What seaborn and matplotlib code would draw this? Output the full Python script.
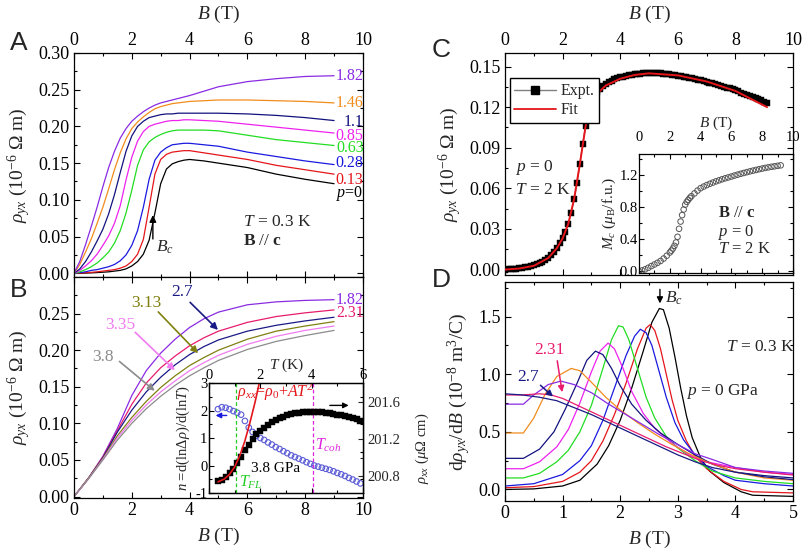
import numpy as np
import pandas as pd
import matplotlib
matplotlib.use("Agg")
import matplotlib.pyplot as plt
from matplotlib.lines import Line2D
from matplotlib.ticker import MultipleLocator, FormatStrFormatter
import seaborn as sns

# ---------------- data ----------------
# panel A : rho_yx (1e-6 Ohm m) vs B (T), T = 0.3 K
a_field = [0, 0.2, 0.4, 0.6, 0.8, 1.0, 1.2, 1.4, 1.6, 1.8, 2.0, 2.2, 2.4, 2.6, 2.8, 3.0,
           3.2, 3.4, 3.6, 3.8, 4.0, 4.5, 5.0, 6.0, 7.0, 8.0, 9.0]
a_labels = ["0", "0.13", "0.28", "0.63", "0.85", "1.1", "1.46", "1.82"]
a_p000 = [0, 0, 0.0003, 0.0006, 0.001, 0.0015, 0.002, 0.003, 0.004, 0.006, 0.010, 0.016, 0.026,
          0.045, 0.082, 0.122, 0.142, 0.149, 0.152, 0.154, 0.155, 0.153, 0.150, 0.144, 0.135,
          0.128, 0.122]
a_p013 = [0, 0.0003, 0.0008, 0.0013, 0.002, 0.003, 0.004, 0.005, 0.007, 0.010, 0.016, 0.026,
          0.046, 0.090, 0.135, 0.155, 0.162, 0.165, 0.166, 0.167, 0.167, 0.164, 0.161, 0.155,
          0.147, 0.141, 0.135]
a_p028 = [0, 0.001, 0.002, 0.004, 0.005, 0.007, 0.009, 0.012, 0.017, 0.025, 0.038, 0.058, 0.090,
          0.128, 0.154, 0.165, 0.171, 0.175, 0.176, 0.177, 0.177, 0.175, 0.173, 0.165, 0.159,
          0.153, 0.148]
a_p063 = [0, 0.002, 0.005, 0.009, 0.014, 0.021, 0.029, 0.041, 0.058, 0.082, 0.113, 0.147, 0.168,
          0.179, 0.185, 0.189, 0.192, 0.194, 0.195, 0.195, 0.195, 0.195, 0.194, 0.188, 0.182,
          0.178, 0.174]
a_p085 = [0, 0.004, 0.010, 0.017, 0.026, 0.038, 0.051, 0.068, 0.092, 0.127, 0.158, 0.180, 0.193,
          0.200, 0.203, 0.205, 0.207, 0.208, 0.208, 0.209, 0.209, 0.208, 0.207, 0.203, 0.199,
          0.195, 0.191]
a_p110 = [0, 0.006, 0.016, 0.029, 0.044, 0.060, 0.081, 0.107, 0.137, 0.166, 0.187, 0.200, 0.207,
          0.212, 0.214, 0.216, 0.217, 0.217, 0.218, 0.218, 0.218, 0.218, 0.218, 0.217, 0.215,
          0.212, 0.208]
a_p146 = [0, 0.012, 0.029, 0.047, 0.068, 0.090, 0.115, 0.141, 0.164, 0.183, 0.197, 0.206, 0.213,
          0.219, 0.224, 0.227, 0.229, 0.231, 0.232, 0.233, 0.234, 0.235, 0.236, 0.236, 0.235,
          0.234, 0.232]
a_p182 = [0, 0.016, 0.039, 0.064, 0.090, 0.118, 0.144, 0.166, 0.184, 0.197, 0.207, 0.214, 0.220,
          0.225, 0.229, 0.232, 0.234, 0.236, 0.238, 0.240, 0.242, 0.248, 0.254, 0.261, 0.265,
          0.268, 0.269]
a_label_y = [0.109, 0.127, 0.150, 0.171, 0.187, 0.206, 0.232, 0.269]

# panel B : higher pressures
b_field = [0, 0.5, 1.0, 1.5, 2.0, 2.5, 3.0, 3.5, 4.0, 4.5, 5.0, 6.0, 7.0, 8.0, 9.0]
b_labels = ["1.82", "2.31", "2.7", "3.13", "3.35", "3.8"]
b_p182 = [0, 0.025, 0.055, 0.093, 0.138, 0.172, 0.196, 0.215, 0.231, 0.243, 0.252, 0.262, 0.266, 0.268, 0.269]
b_p231 = [0, 0.025, 0.054, 0.090, 0.126, 0.155, 0.176, 0.192, 0.206, 0.217, 0.226, 0.238, 0.246, 0.251, 0.255]
b_p270 = [0, 0.025, 0.053, 0.088, 0.118, 0.143, 0.163, 0.180, 0.194, 0.205, 0.214, 0.226, 0.234, 0.240, 0.245]
b_p313 = [0, 0.025, 0.052, 0.083, 0.108, 0.130, 0.149, 0.165, 0.179, 0.190, 0.200, 0.215, 0.226, 0.233, 0.239]
b_p335 = [0, 0.024, 0.051, 0.080, 0.104, 0.125, 0.143, 0.158, 0.172, 0.183, 0.193, 0.208, 0.219, 0.227, 0.233]
b_p380 = [0, 0.024, 0.050, 0.077, 0.100, 0.120, 0.137, 0.152, 0.165, 0.176, 0.186, 0.201, 0.212, 0.220, 0.227]

# panel B inset : n (left) and rho_xx (right) vs T, 3.8 GPa
ins_t = [0.35, 0.5, 0.65, 0.8, 0.95, 1.1, 1.25, 1.4, 1.55, 1.7, 1.85, 2.0, 2.15, 2.3, 2.45,
         2.6, 2.75, 2.9, 3.05, 3.2, 3.35, 3.5, 3.65, 3.8, 3.95, 4.1, 4.25, 4.4, 4.55, 4.7,
         4.85, 5.0, 5.15, 5.3, 5.45, 5.6, 5.75, 5.9]
ins_n = [2.05, 2.12, 2.10, 2.05, 1.98, 1.92, 1.85, 1.62, 1.38, 1.22, 1.08, 1.00, 0.93, 0.84, 0.76,
         0.67, 0.60, 0.52, 0.45, 0.37, 0.31, 0.25, 0.19, 0.12, 0.06, 0.00, -0.04, -0.08, -0.12, -0.16,
         -0.21, -0.27, -0.32, -0.38, -0.45, -0.51, -0.58, -0.65]
ins_rho = [200.75, 200.76, 200.79, 200.83, 200.88, 200.94, 201.01, 201.08, 201.14, 201.20, 201.25,
           201.29, 201.32, 201.35, 201.38, 201.40, 201.42, 201.44, 201.455, 201.465, 201.475,
           201.482, 201.487, 201.49, 201.492, 201.492, 201.49, 201.487, 201.482, 201.476, 201.47,
           201.462, 201.455, 201.447, 201.438, 201.425, 201.41, 201.39]
fit_t = [0.35, 0.6, 0.8, 1.0, 1.2, 1.4, 1.6, 1.8, 2.0]
fit_rho = [200.74, 200.77, 200.82, 200.90, 201.02, 201.18, 201.38, 201.60, 201.85]
t_fl, t_coh = 1.05, 4.07

# panel C : rho_yx at p = 0, T = 2 K (experiment and fit)
c_field = [0.0, 0.1, 0.2, 0.3, 0.4, 0.5, 0.6, 0.7, 0.8, 0.9, 1.0, 1.1, 1.2, 1.3, 1.4, 1.5, 1.6,
           1.7, 1.8, 1.9, 2.0, 2.1, 2.2, 2.3, 2.4, 2.5, 2.6, 2.7, 2.8, 2.9, 3.0, 3.1, 3.2, 3.3,
           3.4, 3.5, 3.6, 3.7, 3.8, 3.9, 4.0, 4.1, 4.2, 4.3, 4.4, 4.5, 4.6, 4.7, 4.8, 4.9, 5.0,
           5.1, 5.2, 5.3, 5.4, 5.5, 5.6, 5.7, 5.8, 5.9, 6.0, 6.1, 6.2, 6.3, 6.4, 6.5, 6.6, 6.7,
           6.8, 6.9, 7.0, 7.1, 7.2, 7.3, 7.4, 7.5, 7.6, 7.7, 7.8, 7.9, 8.0, 8.1, 8.2, 8.3, 8.4,
           8.5, 8.6, 8.7, 8.8, 8.9, 9.0, 9.1]
c_expt = [0.0000, 0.0002, 0.0004, 0.0006, 0.0008, 0.0010, 0.0013, 0.0016, 0.0020, 0.0025, 0.0031,
          0.0038, 0.0047, 0.0058, 0.0072, 0.0088, 0.0108, 0.0132, 0.0160, 0.0193, 0.0232, 0.0280,
          0.0340, 0.0420, 0.0520, 0.0640, 0.0780, 0.0930, 0.1060, 0.1160, 0.1230, 0.1275, 0.1310,
          0.1335, 0.1355, 0.1370, 0.1383, 0.1395, 0.1405, 0.1413, 0.1420, 0.1426, 0.1431, 0.1436,
          0.1440, 0.1443, 0.1446, 0.1448, 0.1450, 0.1451, 0.1452, 0.1452, 0.1451, 0.1450, 0.1449,
          0.1447, 0.1445, 0.1442, 0.1439, 0.1436, 0.1432, 0.1428, 0.1424, 0.1420, 0.1416, 0.1412,
          0.1407, 0.1402, 0.1397, 0.1392, 0.1387, 0.1381, 0.1375, 0.1369, 0.1363, 0.1357, 0.1351,
          0.1345, 0.1338, 0.1331, 0.1324, 0.1316, 0.1308, 0.1300, 0.1292, 0.1284, 0.1276, 0.1268,
          0.1259, 0.1250, 0.1241, 0.1232]
c_fit_field = [0, 0.5, 1.0, 1.5, 1.8, 2.0, 2.2, 2.4, 2.6, 2.8, 3.0, 3.2, 3.5, 4.0, 4.5, 5.0,
               6.0, 7.0, 8.0, 9.1]
c_fit = [0, 0.0008, 0.0028, 0.0085, 0.0158, 0.0230, 0.0340, 0.0520, 0.0780, 0.1060, 0.1225,
         0.1300, 0.1360, 0.1410, 0.1438, 0.1450, 0.1435, 0.1390, 0.1320, 0.1200]

# panel C inset : magnetisation
m_field = [0.0, 0.2, 0.4, 0.6, 0.8, 1.0, 1.2, 1.4, 1.6, 1.8, 2.0, 2.1, 2.2, 2.3, 2.4, 2.5, 2.6,
           2.7, 2.8, 2.9, 3.0, 3.1, 3.2, 3.3, 3.4, 3.6, 3.8, 4.0, 4.2, 4.4, 4.6, 4.8, 5.0, 5.2,
           5.4, 5.6, 5.8, 6.0, 6.2, 6.4, 6.6, 6.8, 7.0, 7.2, 7.4, 7.6, 7.8, 8.0, 8.2, 8.4, 8.6,
           8.8, 9.0, 9.2]
m_c = [0.00, 0.012, 0.026, 0.045, 0.066, 0.086, 0.107, 0.130, 0.160, 0.195, 0.235, 0.258, 0.285,
       0.318, 0.360, 0.430, 0.530, 0.620, 0.700, 0.770, 0.830, 0.865, 0.890, 0.915, 0.935, 0.970,
       1.005, 1.035, 1.055, 1.073, 1.090, 1.105, 1.120, 1.133, 1.146, 1.158, 1.169, 1.180, 1.192,
       1.203, 1.214, 1.224, 1.234, 1.244, 1.253, 1.262, 1.271, 1.279, 1.287, 1.294, 1.301, 1.307,
       1.313, 1.319]

# panel D : d rho_yx / dB (1e-8 m^3/C)
d_b_000 = [0, 0.5, 1.0, 1.3, 1.6, 1.8, 2.0, 2.2, 2.4, 2.55, 2.68, 2.75, 2.85, 2.95, 3.05, 3.15, 3.25, 3.4, 3.55, 3.8, 4.1, 4.3, 5.0]
d_v_000 = [0.0, 0.005, 0.03, 0.08, 0.22, 0.38, 0.60, 0.88, 1.20, 1.45, 1.57, 1.56, 1.40, 1.15, 0.88, 0.64, 0.45, 0.27, 0.16, 0.06, -0.02, -0.05, -0.06]
d_b_013 = [0, 0.5, 1.0, 1.3, 1.5, 1.7, 1.9, 2.1, 2.3, 2.45, 2.52, 2.6, 2.7, 2.8, 2.9, 3.0, 3.15, 3.3, 3.5, 3.8, 4.1, 4.3, 5.0]
d_v_013 = [0.015, 0.025, 0.07, 0.15, 0.25, 0.42, 0.65, 0.92, 1.22, 1.40, 1.43, 1.38, 1.22, 1.00, 0.78, 0.60, 0.42, 0.29, 0.18, 0.07, 0.0, -0.02, -0.03]
d_b_028 = [0, 0.5, 1.0, 1.3, 1.5, 1.7, 1.9, 2.1, 2.25, 2.35, 2.45, 2.55, 2.65, 2.8, 2.95, 3.1, 3.3, 3.5, 3.8, 4.0, 4.5, 5.0]
d_v_028 = [0.03, 0.05, 0.13, 0.25, 0.38, 0.60, 0.88, 1.16, 1.33, 1.39, 1.36, 1.25, 1.07, 0.80, 0.58, 0.43, 0.30, 0.20, 0.12, 0.08, 0.05, 0.03]
d_b_063 = [0, 0.32, 0.6, 0.9, 1.1, 1.3, 1.5, 1.7, 1.85, 1.97, 2.05, 2.15, 2.3, 2.45, 2.6, 2.8, 3.0, 3.3, 3.6, 4.0, 4.5, 5.0]
d_v_063 = [0.10, 0.10, 0.14, 0.24, 0.34, 0.50, 0.73, 1.05, 1.30, 1.42, 1.41, 1.30, 1.05, 0.80, 0.62, 0.46, 0.36, 0.25, 0.16, 0.10, 0.07, 0.05]
d_b_085 = [0, 0.32, 0.6, 0.9, 1.1, 1.3, 1.5, 1.65, 1.79, 1.9, 2.05, 2.2, 2.4, 2.6, 2.9, 3.2, 3.5, 4.0, 4.5, 5.0]
d_v_085 = [0.18, 0.18, 0.24, 0.37, 0.52, 0.75, 1.02, 1.20, 1.27, 1.22, 1.05, 0.85, 0.66, 0.53, 0.40, 0.30, 0.24, 0.19, 0.15, 0.13]
d_b_110 = [0, 0.32, 0.6, 0.85, 1.05, 1.25, 1.42, 1.57, 1.7, 1.85, 2.0, 2.2, 2.45, 2.7, 3.0, 3.3, 3.6, 4.0, 4.5, 5.0]
d_v_110 = [0.27, 0.27, 0.35, 0.50, 0.70, 0.92, 1.12, 1.20, 1.17, 1.05, 0.90, 0.74, 0.60, 0.49, 0.39, 0.30, 0.22, 0.15, 0.12, 0.10]
d_b_146 = [0, 0.32, 0.5, 0.7, 0.9, 1.15, 1.3, 1.5, 1.75, 2.0, 2.3, 2.6, 2.9, 3.2, 3.5, 4.0, 4.5, 5.0]
d_v_146 = [0.49, 0.49, 0.62, 0.83, 0.98, 1.05, 1.03, 0.93, 0.80, 0.69, 0.58, 0.48, 0.39, 0.31, 0.24, 0.15, 0.10, 0.08]
d_b_182 = [0, 0.32, 0.5, 0.75, 0.97, 1.2, 1.5, 1.8, 2.1, 2.4, 2.7, 3.0, 3.3, 3.6, 4.0, 4.5, 5.0]
d_v_182 = [0.74, 0.74, 0.82, 0.91, 0.94, 0.91, 0.84, 0.74, 0.65, 0.56, 0.47, 0.39, 0.31, 0.26, 0.19, 0.16, 0.14]
d_b_231 = [0, 0.3, 0.6, 0.8, 1.0, 1.3, 1.6, 1.9, 2.2, 2.5, 2.8, 3.1, 3.4, 3.7, 4.0, 4.5, 5.0]
d_v_231 = [0.82, 0.82, 0.83, 0.82, 0.79, 0.72, 0.65, 0.58, 0.51, 0.44, 0.37, 0.31, 0.25, 0.21, 0.18, 0.15, 0.125]
d_b_270 = [0, 0.3, 0.6, 0.9, 1.2, 1.5, 1.8, 2.1, 2.4, 2.7, 3.0, 3.3, 3.6, 4.0, 4.5, 5.0]
d_v_270 = [0.83, 0.82, 0.80, 0.77, 0.71, 0.65, 0.58, 0.51, 0.44, 0.37, 0.30, 0.24, 0.19, 0.15, 0.11, 0.085]

colors = {"0": "#000000", "0.13": "#e4161b", "0.28": "#1a1ae0", "0.63": "#22dd22",
          "0.85": "#ee22ee", "1.1": "#12127e", "1.46": "#f28c1c", "1.82": "#8a2be2",
          "2.31": "#e81c6e", "2.7": "#1a1a86", "3.13": "#808010", "3.35": "#f07cf0",
          "3.8": "#8c8c8c"}

# ---------------- style ----------------
sns.set_style("ticks")
plt.rcParams["font.family"] = ["Liberation Serif", "DejaVu Serif"]
plt.rcParams["mathtext.fontset"] = "custom"
plt.rcParams["mathtext.rm"] = "Liberation Serif"
plt.rcParams["mathtext.it"] = "Liberation Serif:italic"
plt.rcParams["mathtext.bf"] = "Liberation Serif:bold"
plt.rcParams["axes.unicode_minus"] = False
plt.rcParams["axes.linewidth"] = 0.9
plt.rcParams["axes.edgecolor"] = "black"

LW = 0.9


def style_axes(ax, xmaj, xmin, ymaj, ymin, size=13):
    ax.xaxis.set_major_locator(MultipleLocator(xmaj))
    ax.xaxis.set_minor_locator(MultipleLocator(xmin))
    ax.yaxis.set_major_locator(MultipleLocator(ymaj))
    ax.yaxis.set_minor_locator(MultipleLocator(ymin))
    ax.tick_params(which="both", direction="in", top=True, right=True, colors="black",
                   labelsize=size, width=0.8, pad=3)
    ax.tick_params(which="major", length=4.5)
    ax.tick_params(which="minor", length=2.5)
    ax.set_xlabel("")
    ax.set_ylabel("")


fig = plt.figure(figsize=(8.05, 5.5), dpi=100)
ax_a = fig.add_axes([0.0919, 0.4964, 0.359, 0.4073])
ax_b = fig.add_axes([0.0919, 0.0945, 0.359, 0.4019])
ax_c = fig.add_axes([0.6273, 0.5, 0.3578, 0.4036])
ax_d = fig.add_axes([0.6273, 0.0891, 0.3578, 0.3982])

rho_label = r"$\rho_{yx}$ (10$^{-6}$ $\Omega$ m)"

# ---------------- A ----------------
a_series = [a_p000, a_p013, a_p028, a_p063, a_p085, a_p110, a_p146, a_p182]
df_a = pd.DataFrame({"B": np.tile(a_field, len(a_labels)),
                     "rho": np.concatenate(a_series),
                     "p": np.repeat(a_labels, len(a_field))})
sns.lineplot(data=df_a, x="B", y="rho", hue="p", palette=colors, lw=LW, legend=False,
             estimator=None, sort=False, ax=ax_a)
style_axes(ax_a, 2, 1, 0.05, 0.025)
ax_a.set_xlim(0, 10)
ax_a.set_ylim(-0.005, 0.30)
ax_a.yaxis.set_major_formatter(FormatStrFormatter("%.2f"))
ax_a.tick_params(labelbottom=False, labeltop=True)
ax_a.xaxis.set_label_position("top")
ax_a.set_xlabel(r"$B$ (T)", fontsize=14, labelpad=9)
ax_a.set_ylabel(rho_label, fontsize=14, labelpad=4)
for lab, yv in zip(a_labels, a_label_y):
    txt = r"$p$=0" if lab == "0" else lab
    ax_a.text(10.02, yv, txt, color=colors[lab], fontsize=11.5, ha="right", va="center")
ax_a.text(5.84, 0.070, r"$T$ = 0.3 K", fontsize=12.5, va="center")
ax_a.text(5.84, 0.044, r"$\mathbf{B}$ // $\mathbf{c}$", fontsize=12.5, va="center")
ax_a.annotate("", xy=(2.73, 0.083), xytext=(2.73, 0.043),
              arrowprops=dict(arrowstyle="-|>", color="black", lw=1.0, mutation_scale=10))
ax_a.text(2.85, 0.036, r"$B_c$", fontsize=12.5, va="center")

# ---------------- B ----------------
b_series = [b_p182, b_p231, b_p270, b_p313, b_p335, b_p380]
df_b = pd.DataFrame({"B": np.tile(b_field, len(b_labels)),
                     "rho": np.concatenate(b_series),
                     "p": np.repeat(b_labels, len(b_field))})
sns.lineplot(data=df_b, x="B", y="rho", hue="p", palette=colors, lw=LW, legend=False,
             estimator=None, sort=False, ax=ax_b)
style_axes(ax_b, 2, 1, 0.05, 0.025)
ax_b.set_xlim(0, 10)
ax_b.set_ylim(-0.002, 0.30)
ax_b.set_yticks([0, 0.05, 0.10, 0.15, 0.20, 0.25])
ax_b.yaxis.set_major_formatter(FormatStrFormatter("%.2f"))
ax_b.set_xlabel(r"$B$ (T)", fontsize=14, labelpad=5)
ax_b.set_ylabel(rho_label, fontsize=14, labelpad=4)
ax_b.text(10.02, 0.269, "1.82", color=colors["1.82"], fontsize=11.5, ha="right", va="center")
ax_b.text(10.02, 0.251, "2.31", color=colors["2.31"], fontsize=11.5, ha="right", va="center")
b_arrows = [("2.7", (3.73, 0.279), (3.95, 0.268), (5.05, 0.225)),
            ("3.13", (2.52, 0.264), (2.85, 0.255), (4.36, 0.193)),
            ("3.35", (1.59, 0.234), (2.05, 0.227), (3.56, 0.170)),
            ("3.8", (1.0, 0.191), (1.5, 0.187), (2.87, 0.142))]
for lab, tpos, tail, tip in b_arrows:
    ax_b.text(*tpos, lab, color=colors[lab], fontsize=12.5, ha="center", va="center")
    ax_b.annotate("", xy=tip, xytext=tail,
                  arrowprops=dict(arrowstyle="-|>", color=colors[lab], lw=1.2, mutation_scale=10))

# inset of B
ax_bi = fig.add_axes([0.2596, 0.1036, 0.1913, 0.2])
ax_bi.set_facecolor("white")
ax_bi.set_zorder(5)
ax_bi2 = ax_bi.twinx()
ax_bi2.set_zorder(6)
sns.scatterplot(x=ins_t, y=ins_n, marker="o", s=16, facecolor="none", edgecolor="#5b5bd6",
                linewidth=0.8, ax=ax_bi)
ax_bi.axvline(t_fl, color="#22cc22", ls=(0, (3, 2)), lw=0.9)
ax_bi.axvline(t_coh, color="#dd22dd", ls=(0, (3, 2)), lw=0.9)
sns.scatterplot(x=ins_t, y=ins_rho, marker="s", s=16, color="black", edgecolor="black",
                linewidth=0.3, ax=ax_bi2)
sns.lineplot(x=fit_t, y=fit_rho, color="#e4161b", lw=1.2, ax=ax_bi2)
style_axes(ax_bi, 2, 1, 1, 0.5, size=10.5)
ax_bi.tick_params(right=False, labelbottom=False, labeltop=True, pad=1)
ax_bi.tick_params(which="major", length=3.5)
ax_bi.tick_params(which="minor", length=2)
ax_bi.set_xlim(0, 6)
ax_bi.set_ylim(-1, 3)
ax_bi.xaxis.set_label_position("top")
ax_bi.set_xlabel(r"$T$ (K)", fontsize=11, labelpad=0)
ax_bi.set_ylabel(r"$n$ =d(ln$\Delta\rho$)/d(ln$T$)", fontsize=10.5)
ax_bi.yaxis.set_label_coords(-0.11, 0.5)
ax_bi2.yaxis.set_major_locator(MultipleLocator(0.4))
ax_bi2.yaxis.set_minor_locator(MultipleLocator(0.2))
ax_bi2.tick_params(which="both", direction="in", labelsize=10.5, width=0.8, pad=3)
ax_bi2.tick_params(which="major", length=3.5)
ax_bi2.tick_params(which="minor", length=2)
ax_bi2.set_ylim(200.62, 201.8)
ax_bi2.yaxis.set_major_formatter(FormatStrFormatter("%.1f"))
ax_bi2.set_ylabel(r"$\rho_{xx}$ ($\mu\Omega$ cm)", fontsize=10.5)
ax_bi2.yaxis.set_label_coords(1.33, 0.41)
ax_bi.text(1.1, 2.65, r"$\rho_{xx}$=$\rho_0$+$AT^2$", color="#e4161b", fontsize=11.5, va="center")
ax_bi.text(4.15, 0.75, r"$T_{coh}$", color="#dd22dd", fontsize=11.5, va="center")
ax_bi.text(1.17, -0.6, r"$T_{FL}$", color="#22cc22", fontsize=11.5, va="center")
ax_bi.text(1.63, -0.1, "3.8 GPa", color="black", fontsize=11, va="center")
ax_bi.annotate("", xy=(0.15, 1.82), xytext=(0.8, 1.82),
               arrowprops=dict(arrowstyle="-|>", color="#1a1ae0", lw=1.0, mutation_scale=8))
ax_bi2.annotate("", xy=(5.55, 201.56), xytext=(4.6, 201.56),
                arrowprops=dict(arrowstyle="-|>", color="black", lw=1.0, mutation_scale=8))

# ---------------- C ----------------
sns.lineplot(x=c_field, y=c_expt, color="#808080", lw=0.9, ax=ax_c)
sns.scatterplot(x=c_field, y=c_expt, marker="s", s=20, color="black", edgecolor="black",
                linewidth=0.3, ax=ax_c, zorder=3)
sns.lineplot(x=c_fit_field, y=c_fit, color="#e4161b", lw=1.4, ax=ax_c, zorder=4)
style_axes(ax_c, 2, 1, 0.03, 0.015)
ax_c.set_xlim(0, 10)
ax_c.set_ylim(-0.004, 0.16)
ax_c.yaxis.set_major_formatter(FormatStrFormatter("%.2f"))
ax_c.tick_params(labelbottom=False, labeltop=True)
ax_c.xaxis.set_label_position("top")
ax_c.set_xlabel(r"$B$ (T)", fontsize=14, labelpad=9)
ax_c.set_ylabel(rho_label, fontsize=14, labelpad=4)
handles = [Line2D([], [], color="#808080", lw=1, marker="s", ms=6, mfc="black", mec="black"),
           Line2D([], [], color="#e4161b", lw=1.3)]
ax_c.legend(handles, ["Expt.", "Fit"], loc="upper left", bbox_to_anchor=(0.005, 0.9),
            fontsize=11.5, frameon=True, fancybox=False, edgecolor="black", framealpha=1,
            handlelength=2.6, borderpad=0.3, labelspacing=0.2, handletextpad=0.3,
            borderaxespad=0.2)
ax_c.text(0.35, 0.0754, r"$p$ = 0", fontsize=12.5, va="center")
ax_c.text(0.35, 0.059, r"$T$ = 2 K", fontsize=12.5, va="center")

# inset of C
ax_ci = fig.add_axes([0.7938, 0.5036, 0.1913, 0.2164])
ax_ci.set_facecolor("white")
sns.scatterplot(x=m_field, y=m_c, marker="o", s=16, facecolor="none", edgecolor="#555555",
                linewidth=0.7, ax=ax_ci)
style_axes(ax_ci, 2, 1, 0.4, 0.2, size=10.5)
ax_ci.tick_params(labelbottom=False, labeltop=True, pad=1)
ax_ci.tick_params(axis="x", pad=7)
ax_ci.tick_params(which="major", length=3.5)
ax_ci.tick_params(which="minor", length=2)
ax_ci.set_xlim(0, 10)
ax_ci.set_ylim(-0.02, 1.46)
ax_ci.yaxis.set_major_formatter(FormatStrFormatter("%.1f"))
ax_ci.xaxis.set_label_position("top")
ax_ci.set_xlabel(r"$B$ (T)", fontsize=11, labelpad=3)
ax_ci.set_ylabel(r"$M_c$ ($\mu_\mathrm{B}$/f.u.)", fontsize=11, labelpad=1)
ax_ci.text(5.13, 0.73, r"$\mathbf{B}$ // $\mathbf{c}$", fontsize=12, va="center")
ax_ci.text(5.13, 0.49, r"$p$ = 0", fontsize=12, va="center")
ax_ci.text(5.13, 0.28, r"$T$ = 2 K", fontsize=12, va="center")

# ---------------- D ----------------
d_sets = [("0", d_b_000, d_v_000), ("0.13", d_b_013, d_v_013), ("0.28", d_b_028, d_v_028),
          ("0.63", d_b_063, d_v_063), ("0.85", d_b_085, d_v_085), ("1.1", d_b_110, d_v_110),
          ("1.46", d_b_146, d_v_146), ("1.82", d_b_182, d_v_182), ("2.31", d_b_231, d_v_231),
          ("2.7", d_b_270, d_v_270)]
for lab, bb, vv in d_sets:
    sns.lineplot(x=bb, y=vv, color=colors[lab], lw=LW, ax=ax_d)
style_axes(ax_d, 1, 0.5, 0.5, 0.25)
ax_d.set_xlim(0, 5)
ax_d.set_ylim(-0.1, 1.8)
ax_d.yaxis.set_major_formatter(FormatStrFormatter("%.1f"))
ax_d.set_xlabel(r"$B$ (T)", fontsize=14, labelpad=5)
ax_d.set_ylabel(r"d$\rho_{yx}$/d$B$ (10$^{-8}$ m$^3$/C)", fontsize=14, labelpad=4)
ax_d.text(3.84, 1.24, r"$T$ = 0.3 K", fontsize=12.5, va="center")
ax_d.text(3.15, 0.85, r"$p$ = 0 GPa", fontsize=12.5, va="center")
ax_d.annotate("", xy=(2.69, 1.59), xytext=(2.69, 1.76),
              arrowprops=dict(arrowstyle="-|>", color="black", lw=1.0, mutation_scale=9))
ax_d.text(2.77, 1.66, r"$B_c$", fontsize=12.5, va="center")
ax_d.text(0.4, 0.98, "2.7", color=colors["2.7"], fontsize=12.5, ha="center", va="center")
ax_d.annotate("", xy=(0.87, 0.79), xytext=(0.58, 0.92),
              arrowprops=dict(arrowstyle="-|>", color=colors["2.7"], lw=1.1, mutation_scale=9))
ax_d.text(0.78, 1.21, "2.31", color=colors["2.31"], fontsize=12.5, ha="center", va="center")
ax_d.annotate("", xy=(1.0, 0.82), xytext=(0.9, 1.14),
              arrowprops=dict(arrowstyle="-|>", color=colors["2.31"], lw=1.1, mutation_scale=9))

# panel letters
for lab, x, y in [("A", 0.012, 0.909), ("B", 0.012, 0.46), ("C", 0.536, 0.896), ("D", 0.537, 0.478)]:
    fig.text(x, y, lab, fontsize=19, family=["Liberation Sans", "DejaVu Sans"], va="baseline")

fig.savefig("out.png", dpi=100)
